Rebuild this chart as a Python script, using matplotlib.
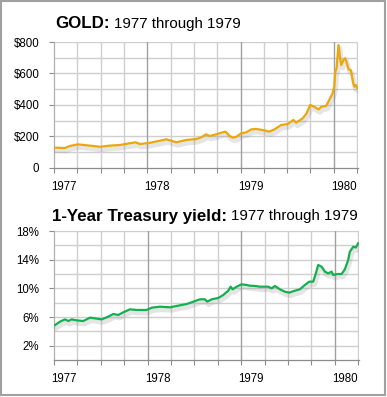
import numpy as np
import matplotlib
matplotlib.use("Agg")
import matplotlib.pyplot as plt
import matplotlib.patheffects as pe
import matplotlib.transforms as mt
from matplotlib.patches import Rectangle
from matplotlib.ticker import MultipleLocator, FixedLocator, FuncFormatter

# gold price, decimal year -> USD per ounce
gold_t = [1977.011, 1977.118, 1977.171, 1977.257, 1977.385, 1977.492, 1977.599, 1977.706,
          1977.813, 1977.877, 1977.920, 1978.027, 1978.134, 1978.205, 1978.259, 1978.312,
          1978.419, 1978.526, 1978.580, 1978.633, 1978.668, 1978.740, 1978.794, 1978.840,
          1978.882, 1978.918, 1978.954, 1979.007, 1979.061, 1979.114, 1979.168, 1979.238,
          1979.310, 1979.364, 1979.435, 1979.506, 1979.567, 1979.596, 1979.666, 1979.709,
          1979.746, 1979.791, 1979.837, 1979.866, 1979.917, 1979.952, 1979.987, 1980.005,
          1980.016, 1980.030, 1980.051, 1980.066, 1980.080, 1980.105, 1980.123, 1980.141,
          1980.158, 1980.184, 1980.209, 1980.222, 1980.237, 1980.254]
gold_v = [129, 127, 140, 150, 142, 135, 142, 146,
          157, 163, 152, 160, 173, 182, 173, 163,
          178, 184, 195, 214, 203, 214, 224, 231,
          203, 193, 198, 220, 226, 245, 248, 241,
          231, 245, 273, 279, 305, 288, 315, 347,
          400, 389, 372, 389, 394, 432, 474, 516,
          611, 633, 781, 707, 654, 686, 697, 665,
          627, 620, 538, 516, 527, 506]

# 1-year treasury yield, decimal year -> percent
tsy_t = [1977.011, 1977.064, 1977.118, 1977.153, 1977.189, 1977.243, 1977.313, 1977.385,
         1977.438, 1977.510, 1977.580, 1977.634, 1977.687, 1977.740, 1977.812, 1977.884,
         1977.990, 1978.044, 1978.132, 1978.239, 1978.346, 1978.418, 1978.471, 1978.560,
         1978.613, 1978.638, 1978.685, 1978.755, 1978.809, 1978.862, 1978.888, 1978.909,
         1978.952, 1979.005, 1979.059, 1979.094, 1979.147, 1979.201, 1979.289, 1979.326,
         1979.361, 1979.415, 1979.468, 1979.514, 1979.575, 1979.628, 1979.682, 1979.728,
         1979.770, 1979.799, 1979.824, 1979.860, 1979.895, 1979.931, 1979.967, 1979.984,
         1980.027, 1980.074, 1980.109, 1980.144, 1980.162, 1980.198, 1980.226, 1980.251]
tsy_v = [4.88, 5.35, 5.67, 5.44, 5.67, 5.53, 5.44, 5.91,
         5.81, 5.67, 6.05, 6.42, 6.28, 6.65, 7.07, 6.98,
         6.98, 7.30, 7.44, 7.35, 7.63, 7.81, 8.05, 8.47,
         8.47, 8.14, 8.47, 8.65, 9.07, 9.67, 10.23, 9.86,
         10.23, 10.56, 10.47, 10.37, 10.33, 10.23, 10.23, 10.0,
         10.33, 9.86, 9.53, 9.40, 9.67, 9.86, 10.47, 10.93,
         10.93, 12.09, 13.26, 13.02, 12.33, 12.09, 12.33, 11.86,
         12.0, 12.0, 12.65, 13.95, 15.1, 15.8, 15.7, 16.28]

years = [1977, 1978, 1979, 1980]

gold_color = "#eaa80a"
green_color = "#13b04f"
tick_color = "#8c8c8c"

plt.rcParams['font.family'] = ['Liberation Sans', 'DejaVu Sans']
fig = plt.figure(figsize=(3.87, 3.97), dpi=100)


def style_axes(ax, ymax, ystep, label_ticks, fmt):
    ax.set_xlim(1977, 1980.26)
    ax.set_ylim(0, ymax)
    # light grid every quarter / every step, darker line at each year
    for q in np.arange(1977.25, 1980.26, 0.25):
        if abs(q - round(q)) > 0.01:
            ax.axvline(q, color="#cfcfcf", lw=1.0, zorder=0)
    for y in np.arange(ystep, ymax + 0.01, ystep):
        ax.axhline(y, color="#cfcfcf", lw=1.0, zorder=0)
    for yr in years[1:]:
        ax.axvline(yr, color="#a0a0a0", lw=1.0, zorder=0)
    for s in ["top", "right"]:
        ax.spines[s].set_visible(False)
    ax.spines["left"].set_color("#b0b0b0")
    ax.spines["bottom"].set_color(tick_color)
    ax.spines["left"].set_linewidth(0.9)
    ax.spines["bottom"].set_linewidth(0.9)
    ax.xaxis.set_major_locator(FixedLocator(years))
    ax.xaxis.set_minor_locator(MultipleLocator(0.25))
    ax.set_xticklabels([str(y) for y in years], ha="left")
    ax.tick_params(axis="x", which="both", length=3.5, width=0.8, color=tick_color,
                   labelsize=8.3, pad=6)
    ax.yaxis.set_major_locator(FixedLocator(label_ticks))
    ax.yaxis.set_major_formatter(FuncFormatter(fmt))
    ax.tick_params(axis="y", length=3.5, width=0.8, color=tick_color, labelsize=8.3, pad=7)
    # nudge year labels so they start at the tick
    off = mt.ScaledTranslation(-2 / 72, 0, fig.dpi_scale_trans)
    for lab in ax.get_xticklabels():
        lab.set_transform(lab.get_transform() + off)


shadow = [pe.SimpleLineShadow(offset=(1.0, -2.2), shadow_color="#8a8a8a", alpha=0.22, linewidth=3.4),
          pe.Normal()]

ax1 = fig.add_axes([54 / 387, 1 - 168 / 397, 304 / 387, 126 / 397])
style_axes(ax1, 800, 100, [0, 200, 400, 600, 800],
           lambda v, p: "0" if v == 0 else "${:.0f}".format(v))
ax1.plot(gold_t, gold_v, color=gold_color, lw=1.6, path_effects=shadow, zorder=3,
         solid_joinstyle="round")

ax2 = fig.add_axes([54 / 387, 1 - 360 / 397, 305 / 387, 129 / 397])
style_axes(ax2, 18, 2, [2, 6, 10, 14, 18], lambda v, p: "{:.0f}%".format(v))
ax2.plot(tsy_t, tsy_v, color=green_color, lw=1.6, path_effects=shadow, zorder=3,
         solid_joinstyle="round")

# titles: bold lead + regular tail
t1 = fig.text(55 / 387, 1 - 24 / 397, "GOLD:", fontsize=12.2, fontweight="bold", va="center")
fig.canvas.draw()
bb = t1.get_window_extent()
fig.text((bb.x1 + 4) / 387, 1 - 24 / 397, "1977 through 1979", fontsize=10.8, va="center")

t2 = fig.text(52 / 387, 1 - 216 / 397, "1-Year Treasury yield:", fontsize=12.2,
              fontweight="bold", va="center")
fig.canvas.draw()
bb = t2.get_window_extent()
fig.text((bb.x1 + 4) / 387, 1 - 216 / 397, "1977 through 1979", fontsize=10.8, va="center")

fig.patches.append(Rectangle((0.002, 0.004), 0.993, 0.994, transform=fig.transFigure,
                             fill=False, ec="#a0a0a0", lw=1.5))

fig.savefig("out.png", dpi=100)
